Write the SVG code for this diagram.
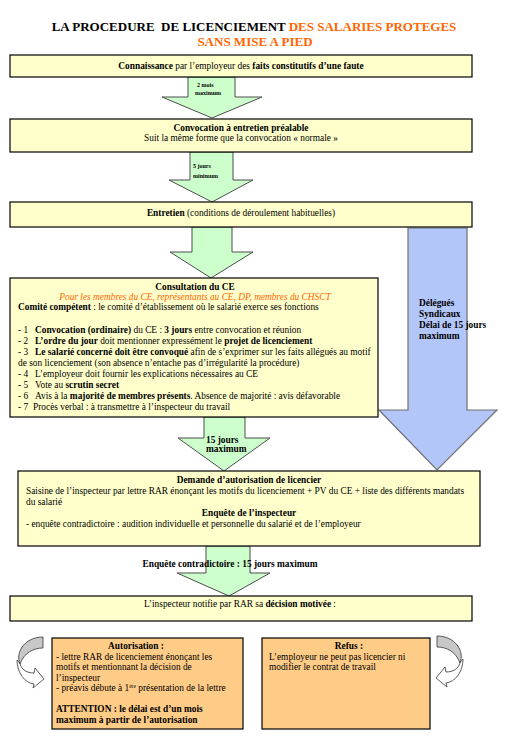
<svg xmlns="http://www.w3.org/2000/svg" width="511" height="746" viewBox="0 0 511 746">
<style>
.bg{fill:#fff}
.box{fill:#FFFFCC;stroke:#000;stroke-width:1.2}
.obox{fill:#FFCC88;stroke:#000;stroke-width:1.2}
.ga{fill:#CCFFCC;stroke:#4d4d4d;stroke-width:1}
.ba{fill:#B3C6FA;stroke:#707070;stroke-width:1.2}
.t{font-family:"Liberation Serif","Times New Roman",serif;font-size:9.35px;fill:#000}
.c{text-anchor:middle}
.b{font-weight:bold}
.or{fill:#FF6600}
.sm{font-size:6px;font-weight:bold}
.ttl{font-family:"Liberation Serif","Times New Roman",serif;font-size:13px;font-weight:bold}
.cg{fill:#C8C8C8;stroke:#333;stroke-width:0.8}
.cw{fill:#fff;stroke:#333;stroke-width:0.8}
</style>
<rect class="bg" x="0" y="0" width="511" height="746"/>
<g id="title">
<text class="ttl c" x="254" y="31" xml:space="preserve">LA PROCEDURE  DE LICENCIEMENT <tspan class="or">DES SALARIES PROTEGES</tspan></text>
<text class="ttl c or" x="255" y="46">SANS MISE A PIED</text>
</g>
<g id="connectors">
<path id="arrow1" class="ga" d="M188,77 L235,77 L235,97 L262,97 L212,118 L162,97 L188,97 Z"/>
<path id="arrow2" class="ga" d="M190,152 L233,152 L233,180 L253,180 L212,202 L169,180 L190,180 Z"/>
<path id="arrow3" class="ga" d="M192,227 L232,227 L232,252 L253,252 L211,278 L170,252 L192,252 Z"/>
<path id="arrowDS" class="ba" d="M408,228 L467,228 L467,410 L497,410 L437,470 L379,410 L408,410 Z"/>
<path id="arrow4" class="ga" d="M204,417 L245,417 L245,438 L270,438 L224,471 L178,438 L204,438 Z"/>
<path id="arrow5" class="ga" d="M206,546 L250,546 L250,573 L270,573 L229,596 L177,573 L206,573 Z"/>
<g id="curveLeft">
<path class="cg" d="M43,637 L43,648 C33,648 24,653 20,664 C15,652 25,637 43,637 Z"/>
<path class="cw" d="M17,660 C17,673 25,683 34,684 L33,688 L44,679 L35,668 L34,673 C27,673 22,670 20,664 C19,662 18,661 17,660 Z"/>
</g>
<g id="curveRight" transform="matrix(-1 0 0 1 480 -1)">
<path class="cg" d="M43,637 L43,648 C33,648 24,653 20,664 C15,652 25,637 43,637 Z"/>
<path class="cw" d="M17,660 C17,673 25,683 34,684 L33,688 L44,679 L35,668 L34,673 C27,673 22,670 20,664 C19,662 18,661 17,660 Z"/>
</g>
<text class="t sm" x="197" y="87">2 mois</text>
<text class="t sm" x="195" y="95">maximum</text>
<text class="t sm" x="193" y="168">5 jours</text>
<text class="t sm" x="193" y="178">minimum</text>
<text class="t b" x="206" y="443">15 jours</text>
<text class="t b" x="206" y="452">maximum</text>
<text class="t b c" x="230" y="567">Enquête contradictoire : 15 jours maximum</text>
<text class="t b" x="419" y="306">Délégués</text>
<text class="t b" x="419" y="317">Syndicaux</text>
<text class="t b" x="419" y="328">Délai de 15 jours</text>
<text class="t b" x="419" y="339">maximum</text>
</g>
<g id="n1">
<rect class="box" x="10" y="55" width="462" height="22"/>
<text class="t c" x="241" y="69"><tspan class="b">Connaissance</tspan> par l’employeur des <tspan class="b">faits constitutifs d’une faute</tspan></text>
</g>
<g id="n2">
<rect class="box" x="10" y="119" width="462" height="33"/>
<text class="t c b" x="241" y="131">Convocation à entretien préalable</text>
<text class="t c" x="241" y="141">Suit la même forme que la convocation « normale »</text>
</g>
<g id="n3">
<rect class="box" x="10" y="202" width="462" height="25"/>
<text class="t c" x="241" y="216"><tspan class="b">Entretien</tspan> (conditions de déroulement habituelles)</text>
</g>
<g id="n4">
<rect class="box" x="10" y="278" width="368" height="139"/>
<text class="t c b" x="195" y="290">Consultation du CE</text>
<text class="t c or" x="195" y="300" font-style="italic">Pour les membres du CE, représentants au CE,  DP, membres du CHSCT</text>
<text class="t" x="18" y="310"><tspan class="b">Comité compétent</tspan> : le comité d’établissement où le salarié exerce ses fonctions</text>
<text class="t" x="18" y="333">- 1<tspan x="35" class="b">Convocation (ordinaire)</tspan> du CE : <tspan class="b">3 jours</tspan> entre convocation et réunion</text>
<text class="t" x="18" y="344">- 2<tspan x="35" class="b">L’ordre du jour</tspan> doit mentionner expressément le <tspan class="b">projet de licenciement</tspan></text>
<text class="t" x="18" y="355">- 3<tspan x="35" class="b">Le salarié concerné doit être convoqué</tspan> afin de s’exprimer sur les faits allégués au motif</text>
<text class="t" x="18" y="366">de son licenciement (son absence n’entache pas d’irrégularité la procédure)</text>
<text class="t" x="18" y="377">- 4<tspan x="35">L’employeur doit fournir les explications nécessaires au CE</tspan></text>
<text class="t" x="18" y="388">- 5<tspan x="35">Vote au </tspan><tspan class="b">scrutin secret</tspan></text>
<text class="t" x="18" y="399">- 6<tspan x="35">Avis à la </tspan><tspan class="b">majorité de membres présents</tspan>. Absence de majorité : avis défavorable</text>
<text class="t" x="18" y="410">- 7<tspan x="33">Procès verbal : à transmettre à l’inspecteur du travail</tspan></text>
</g>
<g id="n5">
<rect class="box" x="18" y="471" width="462" height="75"/>
<text class="t c b" x="249" y="483">Demande d’autorisation de licencier</text>
<text class="t" x="26" y="494">Saisine de l’inspecteur par lettre RAR énonçant les motifs du licenciement + PV du CE + liste des différents mandats</text>
<text class="t" x="26" y="505">du salarié</text>
<text class="t c b" x="249" y="516">Enquête de l’inspecteur</text>
<text class="t" x="26" y="527">- enquête contradictoire : audition individuelle et personnelle du salarié et de l’employeur</text>
</g>
<g id="n6">
<rect class="box" x="10" y="596" width="462" height="25"/>
<text class="t c" x="240" y="607">L’inspecteur notifie par RAR sa <tspan class="b">décision motivée</tspan> :</text>
</g>
<g id="n7">
<rect class="obox" x="52" y="638" width="191" height="91"/>
<text class="t c b" x="136" y="649">Autorisation :</text>
<text class="t" x="56" y="659.5">- lettre RAR de licenciement énonçant les</text>
<text class="t" x="56" y="670">motifs et mentionnant la décision de</text>
<text class="t" x="56" y="680.5">l’inspecteur</text>
<text class="t" x="56" y="691">- préavis débute à 1<tspan font-size="5.5" dy="-3">ère</tspan><tspan dy="3"> présentation de la lettre</tspan></text>
<text class="t b" x="56" y="712">ATTENTION : le délai est d’un mois</text>
<text class="t b" x="56" y="722.5">maximum à partir de l’autorisation</text>
</g>
<g id="n8">
<rect class="obox" x="262" y="638" width="168" height="91"/>
<text class="t c b" x="349" y="649">Refus :</text>
<text class="t" x="269" y="659.5">L’employeur ne peut pas licencier ni</text>
<text class="t" x="269" y="670">modifier le contrat de travail</text>
</g>
</svg>
